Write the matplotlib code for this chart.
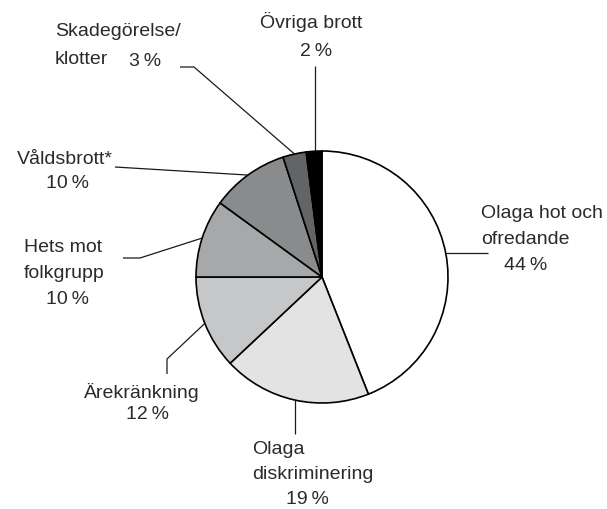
import numpy as np
import matplotlib
matplotlib.use("Agg")
import matplotlib.pyplot as plt

# ---- data ----
categories = ["Olaga hot och\nofredande", "Olaga\ndiskriminering", "Ärekränkning",
              "Hets mot\nfolkgrupp", "Våldsbrott*", "Skadegörelse/\nklotter", "Övriga brott"]
values = [44, 19, 12, 10, 10, 3, 2]
colors = ["#ffffff", "#e2e3e2", "#c6c7c8", "#a7a8aa", "#8a8b8d", "#636466", "#000000"]

W, H = 607, 510
fig = plt.figure(figsize=(W / 100, H / 100), dpi=100)
ax = fig.add_axes([0, 0, 1, 1])

cx, cy, R = 322, H - 278, 126
wedges, _ = ax.pie(values, colors=colors, startangle=90, counterclock=False,
                   center=(cx, cy), radius=R, frame=True,
                   wedgeprops=dict(edgecolor="black", linewidth=1.2))
ax.set_xlim(0, W)
ax.set_ylim(0, H)
ax.set_aspect("equal")
ax.axis("off")

FONT = ["Liberation Sans", "DejaVu Sans"]
FS = 14
TC = "#2a2a2a"
LC = "#1a1a1a"
TS = "\u2009"

def Y(y):
    return H - y

# layout: (leader path points after anchor in image coords, text lines [(text, x, y, ha)])
layout = [
    ([(488, None)],
     [("Olaga hot och", 481, 213, "left"), ("ofredande", 481, 240, "left"),
      (f"{values[0]}{TS}%", 526, 266, "center")]),
    ([(None, 435)],
     [("Olaga", 252, 450, "left"), ("diskriminering", 252, 475, "left"),
      (f"{values[1]}{TS}%", 307, 500, "center")]),
    ([(167, 360), (167, 375)],
     [("Ärekränkning", 142, 393, "center"), (f"{values[2]}{TS}%", 148, 415, "center")]),
    ([(140, 259), (123, 259)],
     [("Hets mot", 24, 248, "left"), ("folkgrupp", 24, 273, "left"),
      (f"{values[3]}{TS}%", 68, 300, "center")]),
    ([(115, 168)],
     [("Våldsbrott*", 17, 159, "left"), (f"{values[4]}{TS}%", 68, 183, "center")]),
    ([(194, 68), (180, 68)],
     [("Skadegörelse/", 55, 32, "left"), ("klotter", 55, 60, "left"),
      (f"{values[5]}{TS}%", 145, 62, "center")]),
    ([(315, 67)],
     [("Övriga brott", 311, 22, "center"), (f"{values[6]}{TS}%", 316, 52, "center")]),
]

for w, (path, texts) in zip(wedges, layout):
    mid = np.deg2rad((w.theta1 + w.theta2) / 2)
    ax_x = cx + R * np.cos(mid)
    ax_y = cy + R * np.sin(mid)
    xs, ys = [ax_x], [ax_y]
    for px, py in path:
        xs.append(ax_x if px is None else px)
        ys.append(ax_y if py is None else Y(py))
    if len(path) == 1 and path[0][0] == 315:
        xs[0] = 315
        ys[0] = cy + np.sqrt(R**2 - (315 - cx) ** 2)
    ax.plot(xs, ys, color=LC, lw=0.9, solid_capstyle="butt", zorder=0)
    for t, x, y, ha in texts:
        ax.text(x, Y(y), t, ha=ha, va="center", fontsize=FS, color=TC, family=FONT)

fig.savefig("out.png", dpi=100, facecolor="white")
